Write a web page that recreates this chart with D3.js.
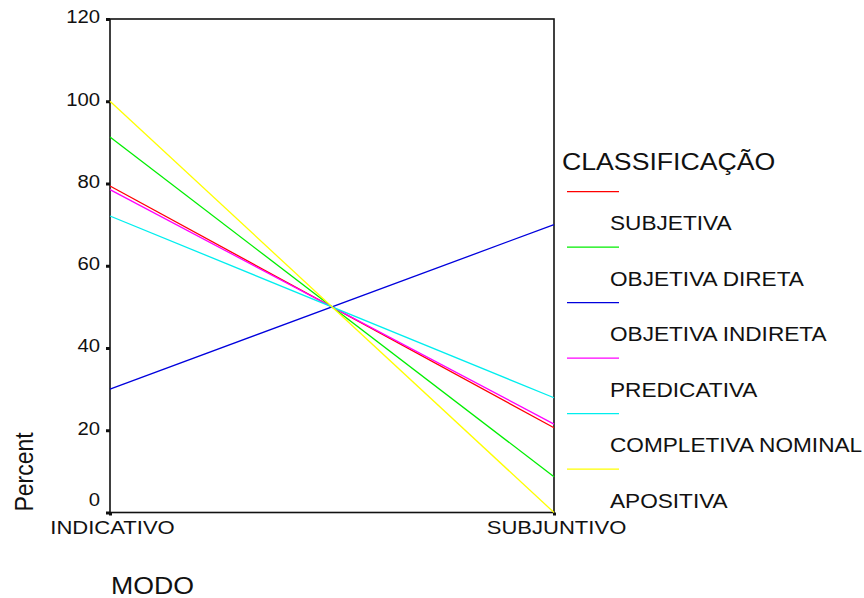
<!DOCTYPE html>
<html>
<head>
<meta charset="utf-8">
<script src="https://cdn.jsdelivr.net/npm/d3@7"></script>
<style>
  body { margin: 0; background: #fff; }
  text { font-family: "Liberation Sans", Arial, sans-serif; fill: #111; }
</style>
</head>
<body>
<svg id="chart" width="864" height="598"></svg>
<script>
const svg = d3.select('#chart')
const stretch = 1.16 // the reference text is a little wide

const categories = ['INDICATIVO', 'SUBJUNTIVO']
const seriesNames = ['SUBJETIVA', 'OBJETIVA DIRETA', 'OBJETIVA INDIRETA', 'PREDICATIVA', 'COMPLETIVA NOMINAL', 'APOSITIVA']
const seriesColors = ['#ff0000', '#00ee00', '#0000dd', '#ff00ff', '#00eeee', '#ffff00']
const subjetiva = [79.4, 20.6]
const objetivaDireta = [91.3, 8.7]
const objetivaIndireta = [30.0, 70.0]
const predicativa = [78.5, 21.5]
const completivaNominal = [72.1, 27.9]
const apositiva = [100, 0]
const yTicks = [0, 20, 40, 60, 80, 100, 120]

const series = [subjetiva, objetivaDireta, objetivaIndireta, predicativa, completivaNominal, apositiva]

const plotLeft = 110, plotRight = 554, plotTop = 19, plotBottom = 512.5

const xScale = d3.scalePoint().domain(categories).range([plotLeft, plotRight]).padding(0)
const yScale = d3.scaleLinear().domain([0, 120]).range([plotBottom, plotTop])

// frame
svg.append('rect')
  .attr('x', plotLeft).attr('y', plotTop)
  .attr('width', plotRight - plotLeft).attr('height', plotBottom - plotTop)
  .attr('fill', 'none').attr('stroke', '#111').attr('stroke-width', 1.6)

// y axis
const yAxis = d3.axisLeft(yScale).tickValues(yTicks).tickSize(4)
const yg = svg.append('g').attr('transform', `translate(${plotLeft},0)`).call(yAxis)
yg.select('.domain').remove()
yg.selectAll('.tick line').attr('stroke', '#111').attr('stroke-width', 3)
yg.selectAll('.tick text')
  .attr('x', -10 / stretch)
  .attr('dy', '0.22em')
  .attr('transform', `scale(${stretch},1)`)
  .style('font-family', '"Liberation Sans", Arial, sans-serif')
  .style('font-size', '17.5px').attr('fill', '#111')
// the zero label sits above its tick
yg.selectAll('.tick').filter(d => d === 0).select('text').attr('dy', '-0.38em')

// x axis
const xAxis = d3.axisBottom(xScale).tickSize(3)
const xg = svg.append('g').attr('transform', `translate(0,${plotBottom})`).call(xAxis)
xg.select('.domain').remove()
xg.selectAll('.tick line').attr('stroke', '#111').attr('stroke-width', 3)
xg.selectAll('.tick text')
  .attr('x', 2 / stretch)
  .attr('y', 8)
  .attr('transform', `scale(${stretch},1)`)
  .style('font-family', '"Liberation Sans", Arial, sans-serif')
  .style('font-size', '19px').attr('fill', '#111')

// lines
const line = d3.line().x((d, i) => xScale(categories[i])).y(d => yScale(d))
series.forEach((s, i) => {
  svg.append('path')
    .datum(s)
    .attr('d', line)
    .attr('fill', 'none')
    .attr('stroke', seriesColors[i])
    .attr('stroke-width', 1.3)
})

// axis titles
svg.append('text')
  .attr('transform', `translate(33,472) scale(${stretch},1) rotate(-90)`)
  .attr('text-anchor', 'middle')
  .style('font-size', '23px')
  .text('Percent')

svg.append('text')
  .attr('transform', `translate(111,594) scale(${stretch},1)`)
  .style('font-size', '23px')
  .text('MODO')

// legend
svg.append('text')
  .attr('transform', `translate(562,170) scale(${stretch},1)`)
  .style('font-size', '23px')
  .text('CLASSIFICAÇÃO')

const legend = svg.selectAll('g.legend')
  .data(seriesNames)
  .enter()
  .append('g')
    .attr('class', 'legend')
    .attr('transform', (d, i) => `translate(567, ${191.7 + i * 55.5})`)

legend.append('line')
  .attr('x1', 0).attr('x2', 52)
  .attr('stroke', (d, i) => seriesColors[i])
  .attr('stroke-width', 1.2)

legend.append('text')
  .attr('transform', `translate(43,38.3) scale(${stretch},1)`)
  .style('font-size', '19.5px')
  .text(d => d)
</script>
</body>
</html>
